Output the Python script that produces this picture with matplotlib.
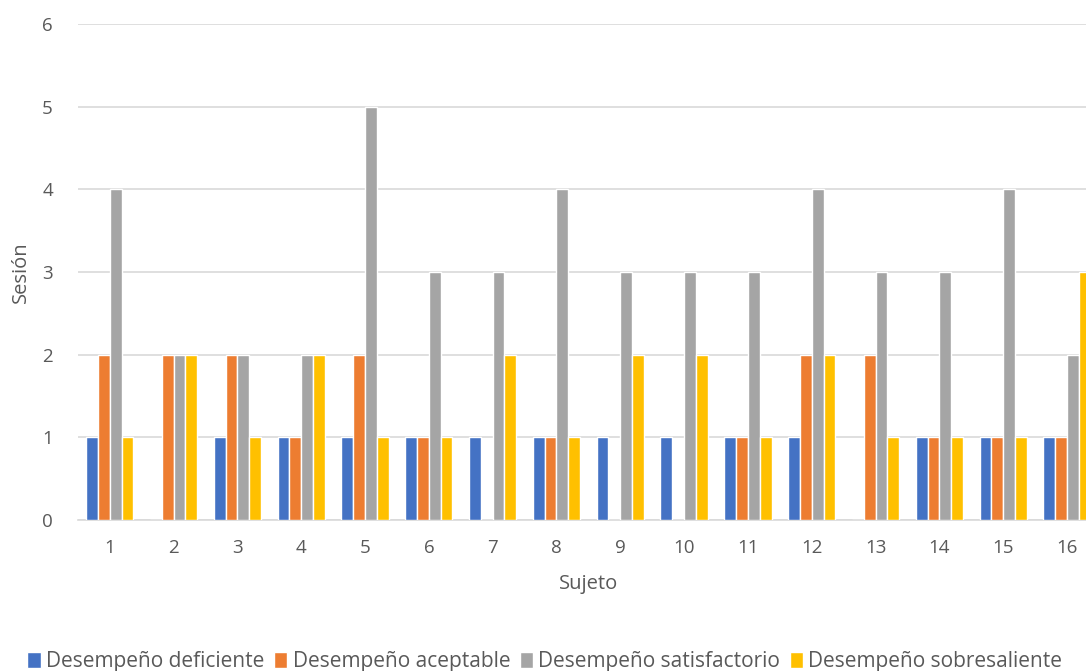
import numpy as np
import matplotlib.pyplot as plt

plt.rcParams['font.family'] = ['Open Sans', 'DejaVu Sans']

sujetos = [str(i) for i in range(1, 17)]
deficiente = [1, 0, 1, 1, 1, 1, 1, 1, 1, 1, 1, 1, 0, 1, 1, 1]
aceptable = [2, 2, 2, 1, 2, 1, 0, 1, 0, 0, 1, 2, 2, 1, 1, 1]
satisfactorio = [4, 2, 2, 2, 5, 3, 3, 4, 3, 3, 3, 4, 3, 3, 4, 2]
sobresaliente = [1, 2, 1, 2, 1, 1, 2, 1, 2, 2, 1, 2, 1, 1, 1, 3]

series = [
    ('Desempeño deficiente', deficiente, '#4472C4'),
    ('Desempeño aceptable', aceptable, '#ED7D31'),
    ('Desempeño satisfactorio', satisfactorio, '#A5A5A5'),
    ('Desempeño sobresaliente', sobresaliente, '#FFC000'),
]

gris = '#595959'
fig = plt.figure(figsize=(10.86, 6.71), dpi=100)
ax = fig.add_axes([0.0718, 0.225, 0.94, 0.739])

x = np.arange(len(sujetos))
w = 0.185
for i, (nombre, vals, color) in enumerate(series):
    ax.bar(x + (i - 1.5) * w, vals, width=w, color=color,
           edgecolor='white', linewidth=1.0, label=nombre, zorder=3)

ax.set_xlim(-0.5, len(sujetos) - 0.5)
ax.set_ylim(0, 6)
ax.set_yticks(range(0, 7))
ax.set_xticks(x)
ax.set_xticklabels(sujetos)
ax.grid(axis='y', color='#D9D9D9', linewidth=1.2, zorder=0)
for s in ['top', 'right', 'left']:
    ax.spines[s].set_visible(False)
ax.spines['bottom'].set_color('#D9D9D9')
ax.spines['bottom'].set_linewidth(1.2)
ax.tick_params(axis='both', length=0, labelsize=13.5, colors=gris, pad=14)
ax.tick_params(axis='y', pad=18)

ax.set_xlabel('Sujeto', fontsize=14.5, color=gris, labelpad=12)
ax.set_ylabel('Sesión', fontsize=14.5, color=gris, labelpad=8)

fig.legend(loc='lower left', bbox_to_anchor=(0.008, -0.03), ncol=4,
           frameon=False, fontsize=15, labelcolor=gris,
           handlelength=0.65, handleheight=0.8, handletextpad=0.25,
           columnspacing=0.45)

fig.savefig('out.png', dpi=100)
